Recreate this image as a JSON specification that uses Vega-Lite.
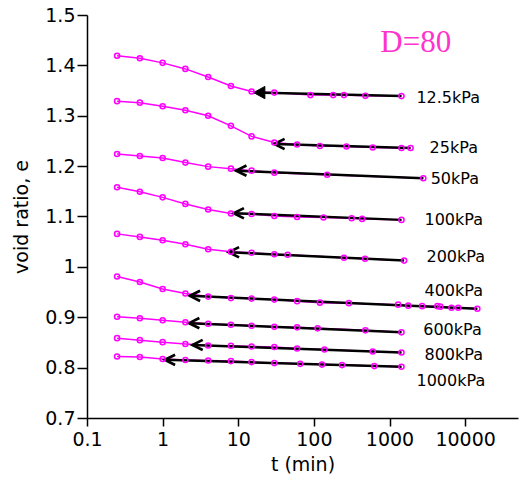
{
  "$schema": "https://vega.github.io/schema/vega-lite/v6.json",
  "width": 431,
  "height": 403,
  "autosize": "none",
  "padding": {"left": 87, "top": 15, "right": 4, "bottom": 68},
  "background": "white",
  "config": {
    "view": {"stroke": null},
    "axis": {
      "grid": false,
      "domainColor": "black",
      "domainWidth": 1.5,
      "tickColor": "black",
      "tickWidth": 1.5,
      "labelColor": "black",
      "titleColor": "black",
      "labelFont": "DejaVu Sans",
      "titleFont": "DejaVu Sans",
      "labelFontSize": 19,
      "titleFontSize": 19,
      "titleFontWeight": "normal",
      "labelFlush": false
    }
  },
  "datasets": {
    "pts": [
      {"p": "12.5kPa", "t": 0.25, "e": 1.419}, {"p": "12.5kPa", "t": 0.5, "e": 1.414}, {"p": "12.5kPa", "t": 1, "e": 1.405}, {"p": "12.5kPa", "t": 2, "e": 1.393}, {"p": "12.5kPa", "t": 4, "e": 1.377}, {"p": "12.5kPa", "t": 8, "e": 1.359}, {"p": "12.5kPa", "t": 15, "e": 1.348}, {"p": "12.5kPa", "t": 30, "e": 1.346}, {"p": "12.5kPa", "t": 90, "e": 1.341}, {"p": "12.5kPa", "t": 180, "e": 1.341}, {"p": "12.5kPa", "t": 250, "e": 1.341}, {"p": "12.5kPa", "t": 480, "e": 1.3395}, {"p": "12.5kPa", "t": 1440, "e": 1.339},
      {"p": "25kPa", "t": 0.25, "e": 1.329}, {"p": "25kPa", "t": 0.5, "e": 1.326}, {"p": "25kPa", "t": 1, "e": 1.319}, {"p": "25kPa", "t": 2, "e": 1.311}, {"p": "25kPa", "t": 4, "e": 1.3}, {"p": "25kPa", "t": 8, "e": 1.28}, {"p": "25kPa", "t": 15, "e": 1.259}, {"p": "25kPa", "t": 30, "e": 1.247}, {"p": "25kPa", "t": 60, "e": 1.243}, {"p": "25kPa", "t": 120, "e": 1.24}, {"p": "25kPa", "t": 270, "e": 1.239}, {"p": "25kPa", "t": 600, "e": 1.237}, {"p": "25kPa", "t": 1440, "e": 1.236}, {"p": "25kPa", "t": 1900, "e": 1.236},
      {"p": "50kPa", "t": 0.25, "e": 1.224}, {"p": "50kPa", "t": 0.5, "e": 1.22}, {"p": "50kPa", "t": 1, "e": 1.216}, {"p": "50kPa", "t": 2, "e": 1.207}, {"p": "50kPa", "t": 4, "e": 1.199}, {"p": "50kPa", "t": 8, "e": 1.195}, {"p": "50kPa", "t": 15, "e": 1.191}, {"p": "50kPa", "t": 30, "e": 1.187}, {"p": "50kPa", "t": 150, "e": 1.183}, {"p": "50kPa", "t": 2800, "e": 1.176},
      {"p": "100kPa", "t": 0.25, "e": 1.158}, {"p": "100kPa", "t": 0.5, "e": 1.149}, {"p": "100kPa", "t": 1, "e": 1.138}, {"p": "100kPa", "t": 2, "e": 1.125}, {"p": "100kPa", "t": 4, "e": 1.114}, {"p": "100kPa", "t": 8, "e": 1.106}, {"p": "100kPa", "t": 15, "e": 1.105}, {"p": "100kPa", "t": 30, "e": 1.101}, {"p": "100kPa", "t": 60, "e": 1.099}, {"p": "100kPa", "t": 134, "e": 1.098}, {"p": "100kPa", "t": 316, "e": 1.0966}, {"p": "100kPa", "t": 434, "e": 1.0952}, {"p": "100kPa", "t": 1440, "e": 1.0933},
      {"p": "200kPa", "t": 0.25, "e": 1.0655}, {"p": "200kPa", "t": 0.5, "e": 1.0595}, {"p": "200kPa", "t": 1, "e": 1.053}, {"p": "200kPa", "t": 2, "e": 1.045}, {"p": "200kPa", "t": 4, "e": 1.035}, {"p": "200kPa", "t": 8, "e": 1.03}, {"p": "200kPa", "t": 15, "e": 1.028}, {"p": "200kPa", "t": 30, "e": 1.025}, {"p": "200kPa", "t": 45, "e": 1.024}, {"p": "200kPa", "t": 250, "e": 1.018}, {"p": "200kPa", "t": 475, "e": 1.016}, {"p": "200kPa", "t": 1560, "e": 1.0125},
      {"p": "400kPa", "t": 0.25, "e": 0.981}, {"p": "400kPa", "t": 0.5, "e": 0.97}, {"p": "400kPa", "t": 1, "e": 0.956}, {"p": "400kPa", "t": 2, "e": 0.947}, {"p": "400kPa", "t": 4, "e": 0.941}, {"p": "400kPa", "t": 8, "e": 0.938}, {"p": "400kPa", "t": 15, "e": 0.937}, {"p": "400kPa", "t": 30, "e": 0.935}, {"p": "400kPa", "t": 60, "e": 0.932}, {"p": "400kPa", "t": 120, "e": 0.929}, {"p": "400kPa", "t": 290, "e": 0.928}, {"p": "400kPa", "t": 1300, "e": 0.925}, {"p": "400kPa", "t": 1770, "e": 0.923}, {"p": "400kPa", "t": 2700, "e": 0.922}, {"p": "400kPa", "t": 4300, "e": 0.922}, {"p": "400kPa", "t": 4700, "e": 0.921}, {"p": "400kPa", "t": 6600, "e": 0.919}, {"p": "400kPa", "t": 8100, "e": 0.919}, {"p": "400kPa", "t": 14500, "e": 0.917},
      {"p": "600kPa", "t": 0.25, "e": 0.901}, {"p": "600kPa", "t": 0.5, "e": 0.898}, {"p": "600kPa", "t": 1, "e": 0.894}, {"p": "600kPa", "t": 2, "e": 0.89}, {"p": "600kPa", "t": 4, "e": 0.887}, {"p": "600kPa", "t": 8, "e": 0.885}, {"p": "600kPa", "t": 15, "e": 0.883}, {"p": "600kPa", "t": 30, "e": 0.881}, {"p": "600kPa", "t": 60, "e": 0.88}, {"p": "600kPa", "t": 112, "e": 0.878}, {"p": "600kPa", "t": 480, "e": 0.874}, {"p": "600kPa", "t": 1440, "e": 0.87},
      {"p": "800kPa", "t": 0.25, "e": 0.8585}, {"p": "800kPa", "t": 0.5, "e": 0.8545}, {"p": "800kPa", "t": 1, "e": 0.8506}, {"p": "800kPa", "t": 2, "e": 0.847}, {"p": "800kPa", "t": 4, "e": 0.844}, {"p": "800kPa", "t": 8, "e": 0.8433}, {"p": "800kPa", "t": 15, "e": 0.842}, {"p": "800kPa", "t": 30, "e": 0.841}, {"p": "800kPa", "t": 60, "e": 0.838}, {"p": "800kPa", "t": 138, "e": 0.836}, {"p": "800kPa", "t": 600, "e": 0.832}, {"p": "800kPa", "t": 1440, "e": 0.83},
      {"p": "1000kPa", "t": 0.25, "e": 0.822}, {"p": "1000kPa", "t": 0.5, "e": 0.821}, {"p": "1000kPa", "t": 1, "e": 0.817}, {"p": "1000kPa", "t": 2, "e": 0.815}, {"p": "1000kPa", "t": 4, "e": 0.814}, {"p": "1000kPa", "t": 8, "e": 0.813}, {"p": "1000kPa", "t": 15, "e": 0.811}, {"p": "1000kPa", "t": 30, "e": 0.809}, {"p": "1000kPa", "t": 66, "e": 0.8075}, {"p": "1000kPa", "t": 128, "e": 0.806}, {"p": "1000kPa", "t": 236, "e": 0.805}, {"p": "1000kPa", "t": 630, "e": 0.803}, {"p": "1000kPa", "t": 1440, "e": 0.8016}
    ],
    "arrows": [
      {"p": "12.5kPa", "tTip": 16, "eTip": 1.346, "tEnd": 1440, "eEnd": 1.339},
      {"p": "25kPa", "tTip": 30, "eTip": 1.244, "tEnd": 1900, "eEnd": 1.236},
      {"p": "50kPa", "tTip": 9.4, "eTip": 1.191, "tEnd": 2800, "eEnd": 1.176},
      {"p": "100kPa", "tTip": 8.7, "eTip": 1.1065, "tEnd": 1440, "eEnd": 1.0933},
      {"p": "200kPa", "tTip": 7.5, "eTip": 1.029, "tEnd": 1560, "eEnd": 1.0125},
      {"p": "400kPa", "tTip": 2.29, "eTip": 0.9425, "tEnd": 14500, "eEnd": 0.917},
      {"p": "600kPa", "tTip": 2.24, "eTip": 0.8883, "tEnd": 1440, "eEnd": 0.87},
      {"p": "800kPa", "tTip": 2.48, "eTip": 0.845, "tEnd": 1440, "eEnd": 0.83},
      {"p": "1000kPa", "tTip": 1.07, "eTip": 0.8155, "tEnd": 1440, "eEnd": 0.8016}
    ],
    "labels": [
      {"label": "12.5kPa", "t": 5970, "e": 1.326},
      {"label": "25kPa", "t": 7070, "e": 1.2268},
      {"label": "50kPa", "t": 7300, "e": 1.1647},
      {"label": "100kPa", "t": 7070, "e": 1.0833},
      {"label": "200kPa", "t": 7520, "e": 1.0105},
      {"label": "400kPa", "t": 7070, "e": 0.9425},
      {"label": "600kPa", "t": 6800, "e": 0.8645},
      {"label": "800kPa", "t": 7070, "e": 0.8155},
      {"label": "1000kPa", "t": 6470, "e": 0.7645}
    ],
    "title": [{"label": "D=80", "t": 2223, "e": 1.427}]
  },
  "layer": [
    {
      "data": {"name": "pts"},
      "mark": {"type": "line", "color": "#ff00ff", "strokeWidth": 1.5},
      "encoding": {
        "x": {"field": "t", "type": "quantitative", "scale": {"type": "log", "domain": [0.1, 50000]}, "title": "t (min)",
              "axis": {"values": [0.1, 1, 10, 100, 1000, 10000], "format": "~g", "tickSize": 8, "labelPadding": 4, "titlePadding": 6}},
        "y": {"field": "e", "type": "quantitative", "scale": {"domain": [0.7, 1.5]}, "title": "void ratio, e",
              "axis": {"values": [0.7, 0.8, 0.9, 1, 1.1, 1.2, 1.3, 1.4, 1.5], "format": "~g", "tickSize": 10, "labelPadding": 2, "titlePadding": 13}},
        "detail": {"field": "p"}
      }
    },
    {
      "data": {"name": "arrows"},
      "mark": {"type": "rule", "color": "black", "strokeWidth": 2.5},
      "encoding": {
        "x": {"field": "tEnd", "type": "quantitative", "scale": {"type": "log", "domain": [0.1, 50000]}, "title": "t (min)"},
        "x2": {"field": "tTip"},
        "y": {"field": "eEnd", "type": "quantitative", "scale": {"domain": [0.7, 1.5]}, "title": "void ratio, e"},
        "y2": {"field": "eTip"}
      }
    },
    {
      "data": {"name": "arrows"},
      "transform": [{"filter": "datum.p !== '12.5kPa'"}],
      "mark": {"type": "point", "shape": "M1,-0.5L0,0L1,0.5", "filled": false, "stroke": "black", "strokeWidth": 2.7, "size": 420, "opacity": 1, "strokeJoin": "miter"},
      "encoding": {
        "x": {"field": "tTip", "type": "quantitative", "scale": {"type": "log", "domain": [0.1, 50000]}, "title": "t (min)"},
        "y": {"field": "eTip", "type": "quantitative", "scale": {"domain": [0.7, 1.5]}, "title": "void ratio, e"}
      }
    },
    {
      "data": {"name": "arrows"},
      "transform": [{"filter": "datum.p === '12.5kPa'"}],
      "mark": {"type": "point", "shape": "M0,0L1,-0.55L1,0.55Z", "filled": true, "fill": "black", "stroke": "black", "strokeWidth": 1, "size": 500, "opacity": 1},
      "encoding": {
        "x": {"field": "tTip", "type": "quantitative", "scale": {"type": "log", "domain": [0.1, 50000]}, "title": "t (min)"},
        "y": {"field": "eTip", "type": "quantitative", "scale": {"domain": [0.7, 1.5]}, "title": "void ratio, e"}
      }
    },
    {
      "data": {"name": "pts"},
      "mark": {"type": "point", "shape": "circle", "filled": false, "stroke": "#ff00ff", "strokeWidth": 1.5, "size": 26, "opacity": 1},
      "encoding": {
        "x": {"field": "t", "type": "quantitative", "scale": {"type": "log", "domain": [0.1, 50000]}, "title": "t (min)"},
        "y": {"field": "e", "type": "quantitative", "scale": {"domain": [0.7, 1.5]}, "title": "void ratio, e"}
      }
    },
    {
      "data": {"name": "labels"},
      "mark": {"type": "text", "font": "DejaVu Sans", "fontSize": 16, "color": "black", "align": "center", "baseline": "alphabetic"},
      "encoding": {
        "x": {"field": "t", "type": "quantitative", "scale": {"type": "log", "domain": [0.1, 50000]}, "title": "t (min)"},
        "y": {"field": "e", "type": "quantitative", "scale": {"domain": [0.7, 1.5]}, "title": "void ratio, e"},
        "text": {"field": "label"}
      }
    },
    {
      "data": {"name": "title"},
      "mark": {"type": "text", "font": "Liberation Serif", "fontSize": 31, "color": "#ff33cc", "align": "center", "baseline": "alphabetic"},
      "encoding": {
        "x": {"field": "t", "type": "quantitative", "scale": {"type": "log", "domain": [0.1, 50000]}, "title": "t (min)"},
        "y": {"field": "e", "type": "quantitative", "scale": {"domain": [0.7, 1.5]}, "title": "void ratio, e"},
        "text": {"field": "label"}
      }
    }
  ]
}
